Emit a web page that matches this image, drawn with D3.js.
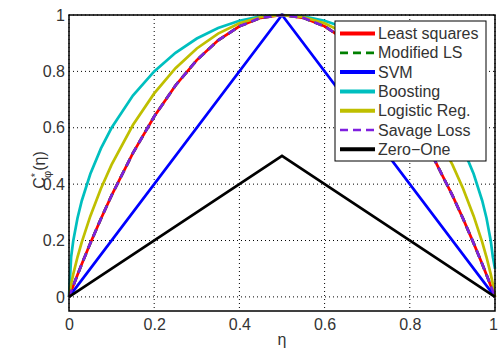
<!DOCTYPE html>
<html>
<head>
<meta charset="utf-8">
<script src="https://cdn.jsdelivr.net/npm/d3@7"></script>
<style>
body { margin: 0; background: #fff; }
text { font-family: "Liberation Sans", Arial, sans-serif; }
</style>
</head>
<body>
<div id="canvas" style="width:498px;height:349px"></div>
<script>
var canvasWidth = 498, canvasHeight = 349;
var margin = {t:15, r:3, b:38, l:69};
var plotWidth = canvasWidth - margin.l - margin.r,
    plotHeight = canvasHeight - margin.t - margin.b;

// eta sample points
var eta = [0, 0.005, 0.01, 0.02, 0.03, 0.05, 0.075, 0.1, 0.15, 0.2, 0.25, 0.3, 0.35, 0.4, 0.45, 0.5,
           0.55, 0.6, 0.65, 0.7, 0.75, 0.8, 0.85, 0.9, 0.925, 0.95, 0.97, 0.98, 0.99, 0.995, 1];
var leastSquares = [0, 0.0199, 0.0396, 0.0784, 0.1164, 0.19, 0.2775, 0.36, 0.51, 0.64, 0.75, 0.84, 0.91, 0.96, 0.99, 1,
                    0.99, 0.96, 0.91, 0.84, 0.75, 0.64, 0.51, 0.36, 0.2775, 0.19, 0.1164, 0.0784, 0.0396, 0.0199, 0];
var modifiedLS = leastSquares.slice();
var savage = leastSquares.slice();
var boosting = [0, 0.1411, 0.199, 0.28, 0.3412, 0.4359, 0.5268, 0.6, 0.7141, 0.8, 0.866, 0.9165, 0.9539, 0.9798, 0.995, 1,
                0.995, 0.9798, 0.9539, 0.9165, 0.866, 0.8, 0.7141, 0.6, 0.5268, 0.4359, 0.3412, 0.28, 0.199, 0.1411, 0.1];
var logistic = [0, 0.0454, 0.0808, 0.1414, 0.1944, 0.2864, 0.3843, 0.469, 0.6098, 0.7219, 0.8113, 0.8813, 0.9341, 0.971, 0.9928, 1,
                0.9928, 0.971, 0.9341, 0.8813, 0.8113, 0.7219, 0.6098, 0.469, 0.3843, 0.2864, 0.1944, 0.1414, 0.0808, 0.0454, 0];
var etaKink = [0, 0.5, 1];
var svm = [0, 1, 0];
var zeroOne = [0, 0.5, 0];

var xTicks = [0, 0.2, 0.4, 0.6, 0.8, 1];
var yTicks = [0, 0.2, 0.4, 0.6, 0.8, 1];

var series = [
  {name:'Least squares', x:eta, y:leastSquares, color:'#ff0000', dash:null},
  {name:'Modified LS', x:eta, y:modifiedLS, color:'#008000', dash:'8,5'},
  {name:'SVM', x:etaKink, y:svm, color:'#0000ff', dash:null},
  {name:'Boosting', x:eta, y:boosting, color:'#00bfbf', dash:null},
  {name:'Logistic Reg.', x:eta, y:logistic, color:'#bfbf00', dash:null},
  {name:'Savage Loss', x:eta, y:savage, color:'#7f1fdf', dash:'8,5'},
  {name:'Zero-One', x:etaKink, y:zeroOne, color:'#000000', dash:null}
];

var svg = d3.select('#canvas').append('svg')
  .attr('width', canvasWidth)
  .attr('height', canvasHeight);

var plot = svg.append('g')
  .attr('transform', 'translate('+margin.l+','+margin.t+')');

var x = d3.scaleLinear().domain([0,1]).range([0, plotWidth]);
var y = d3.scaleLinear().domain([-0.05,1]).range([plotHeight, 0]);

// grid
plot.selectAll('.gx').data(xTicks).enter().append('line')
  .attr('x1', d => x(d)).attr('x2', d => x(d))
  .attr('y1', 0).attr('y2', plotHeight)
  .style('stroke', '#000').style('stroke-width', 1).style('stroke-dasharray', '1,3');
plot.selectAll('.gy').data(yTicks).enter().append('line')
  .attr('x1', 0).attr('x2', plotWidth)
  .attr('y1', d => y(d)).attr('y2', d => y(d))
  .style('stroke', '#000').style('stroke-width', 1).style('stroke-dasharray', '1,3');

// curves
var line = d3.line().x(d => x(d[0])).y(d => y(d[1]));
series.forEach(function(s){
  plot.append('path')
    .datum(s.x.map((v,i) => [v, s.y[i]]))
    .attr('d', line)
    .style('fill', 'none')
    .style('stroke', s.color)
    .style('stroke-width', 2.7)
    .style('stroke-dasharray', s.dash);
});

// axes
var xAxis = plot.append('g').attr('transform', 'translate(0,'+plotHeight+')')
  .call(d3.axisBottom(x).tickValues(xTicks).tickFormat(d3.format('')).tickSize(0).tickPadding(8));
var yAxis = plot.append('g')
  .call(d3.axisLeft(y).tickValues(yTicks).tickFormat(d3.format('')).tickSize(0).tickPadding(4));
[xAxis, yAxis].forEach(function(a){
  a.select('.domain').remove();
  a.selectAll('text').style('font-size', '16px').style('fill', '#333')
    .style('font-family', '"Liberation Sans", Arial, sans-serif');
});
xAxis.selectAll('.tick').filter(d => d === 1).select('text').attr('dx', -2);

// box
plot.append('rect')
  .attr('width', plotWidth).attr('height', plotHeight)
  .style('fill', 'none').style('stroke', '#000').style('stroke-width', 1.5);

// axis labels
svg.append('text')
  .attr('x', margin.l + x(0.5)).attr('y', 345)
  .attr('text-anchor', 'middle')
  .style('font-size', '16px').style('fill', '#333')
  .text('η');

var yl = svg.append('text')
  .attr('transform', 'translate(45,170) rotate(-90)')
  .attr('text-anchor', 'middle')
  .style('font-size', '16px').style('fill', '#333');
yl.append('tspan').text('C');
yl.append('tspan').attr('dy', -6).style('font-size', '11px').text('*');
yl.append('tspan').attr('dx', -5).attr('dy', 12).style('font-size', '11px').text('φ');
yl.append('tspan').attr('dy', -6).text('(η)');

// legend
var legend = svg.append('g').attr('transform', 'translate(335,21)');
legend.append('rect')
  .attr('width', 151).attr('height', 140)
  .style('fill', '#fff').style('stroke', '#000').style('stroke-width', 1);
series.forEach(function(s, i){
  var ly = 12.5 + i*19.3;
  legend.append('line')
    .attr('x1', 5).attr('x2', 40).attr('y1', ly).attr('y2', ly)
    .style('stroke', s.color).style('stroke-width', s.dash ? 2.7 : 4)
    .style('stroke-dasharray', s.dash);
  legend.append('text')
    .attr('x', 43).attr('y', ly + 5.5)
    .style('font-size', '16px').style('fill', '#333')
    .text(s.name.replace('-', '\u2212'));
});
</script>
</body>
</html>
